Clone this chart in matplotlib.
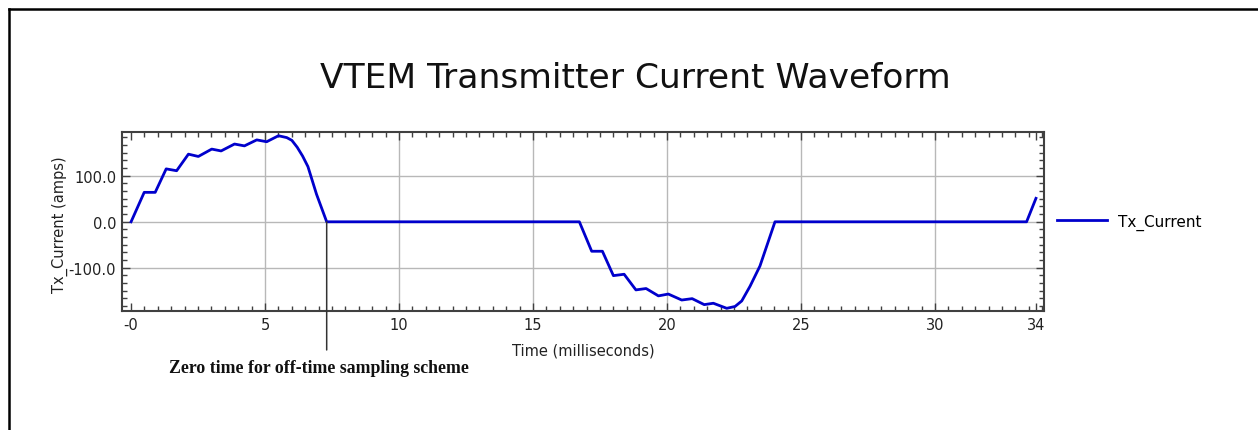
import numpy as np
import matplotlib
matplotlib.use('Agg')
import matplotlib.pyplot as plt
from matplotlib.ticker import MultipleLocator, AutoMinorLocator, FormatStrFormatter
from matplotlib.lines import Line2D

# waveform (time in ms, current in amps)
t_ms = [0.0, 0.49, 0.90, 1.31, 1.70, 2.14, 2.51, 3.01, 3.36, 3.86, 4.23, 4.69,
		5.06, 5.50, 5.81, 6.00, 6.20, 6.40, 6.60, 6.92, 7.30,
		16.73, 17.19, 17.59, 18.00, 18.40, 18.84, 19.22, 19.68, 20.05, 20.55,
		20.94, 21.39, 21.73, 22.23, 22.54, 22.79, 23.10, 23.47, 24.03,
		33.42, 33.77]
current = [0, 64, 64, 115, 111, 147, 142, 158, 154, 169, 165, 178,
		   174, 187, 183, 177, 162, 143, 120, 60, 0,
		   0, -64, -64, -117, -114, -148, -145, -161, -157, -170,
		   -167, -180, -177, -188, -184, -172, -140, -96, 0,
		   0, 51]
x_ticks = [5, 10, 15, 20, 25, 30]
x_tick_labels = ['5', '10', '15', '20', '25', '30']
series_name = 'Tx_Current'


def main():
	W, H = 1258, 431
	fig = plt.figure(figsize=(W / 100, H / 100), dpi=100)
	ax = fig.add_axes([121.7 / W, 1 - 312.3 / H, (1044 - 121.7) / W, (312.3 - 133.3) / H])

	ax.plot(t_ms, current, color='#0000cc', lw=2.0, label=series_name, zorder=3)

	# end ticks at the data limits, labelled like the original ("-0" and "34")
	ticks = [t_ms[0]] + x_ticks + [t_ms[-1]]
	labels = ['-0'] + x_tick_labels + ['%d' % round(t_ms[-1])]
	ax.set_xticks(ticks)
	ax.set_xticklabels(labels)
	ax.xaxis.set_minor_locator(MultipleLocator(0.5))
	ax.set_xlim(-0.35, 34.07)

	ax.yaxis.set_major_locator(MultipleLocator(100))
	ax.yaxis.set_minor_locator(AutoMinorLocator(6))
	ax.yaxis.set_major_formatter(FormatStrFormatter('%.1f'))
	ax.set_ylim(-194.5, 194.5)

	ax.grid(True, which='major', color='#b8b8b8', lw=1.0, zorder=0)
	xgl = ax.get_xgridlines()
	xgl[0].set_visible(False)
	xgl[-1].set_visible(False)

	ax.tick_params(which='both', direction='in', top=True, right=True,
				   colors='#404040', labelcolor='#222222', labelsize=10.5)
	ax.tick_params(which='major', length=6, width=1, pad=4)
	ax.tick_params(which='minor', length=3.5, width=1)
	for sp in ax.spines.values():
		sp.set_color('#404040')
		sp.set_linewidth(1.5)

	ax.set_xlabel('Time (milliseconds)', fontsize=10.5, color='#222222', va='baseline')
	ax.xaxis.set_label_coords(0.5, -0.2425)
	ax.set_ylabel('Tx_Current (amps)', fontsize=10.5, color='#222222', va='center')
	ax.yaxis.set_label_coords(-0.0669, 0.49)

	ax.legend(loc='center left', bbox_to_anchor=(1.0, 0.5), frameon=False,
			  fontsize=11, handlelength=3.27, handletextpad=0.72,
			  borderaxespad=0, borderpad=0.85)

	fig.text(635 / W, 1 - 88 / H, 'VTEM Transmitter Current Waveform',
			 ha='center', va='baseline', fontsize=24.8, color='#111111')

	# marker for the end of the on-time pulse
	peak = int(np.argmax(current))
	t_zero = next(t for t, c in zip(t_ms[peak:], current[peak:]) if c == 0)
	ax.annotate('', xy=(t_zero, 0), xycoords='data',
				xytext=(t_zero, -0.216), textcoords=ax.get_xaxis_transform(),
				arrowprops=dict(arrowstyle='-', color='#333333', lw=1.1,
								shrinkA=0, shrinkB=0),
				annotation_clip=False)
	fig.text(319 / W, 1 - 373.3 / H, 'Zero time for off-time sampling scheme',
			 ha='center', va='baseline', fontsize=12.8, fontweight='bold',
			 family='Liberation Serif', color='#111111')

	# outer frame (left and top edges only)
	fig.add_artist(Line2D([8.5 / W, 8.5 / W], [0, 1 - 10 / H], transform=fig.transFigure,
						  color='black', lw=1.8))
	fig.add_artist(Line2D([8.5 / W, 1], [1 - 10 / H, 1 - 10 / H], transform=fig.transFigure,
						  color='black', lw=1.8))

	fig.savefig('out.png', dpi=100)


if __name__ == '__main__':
	main()
